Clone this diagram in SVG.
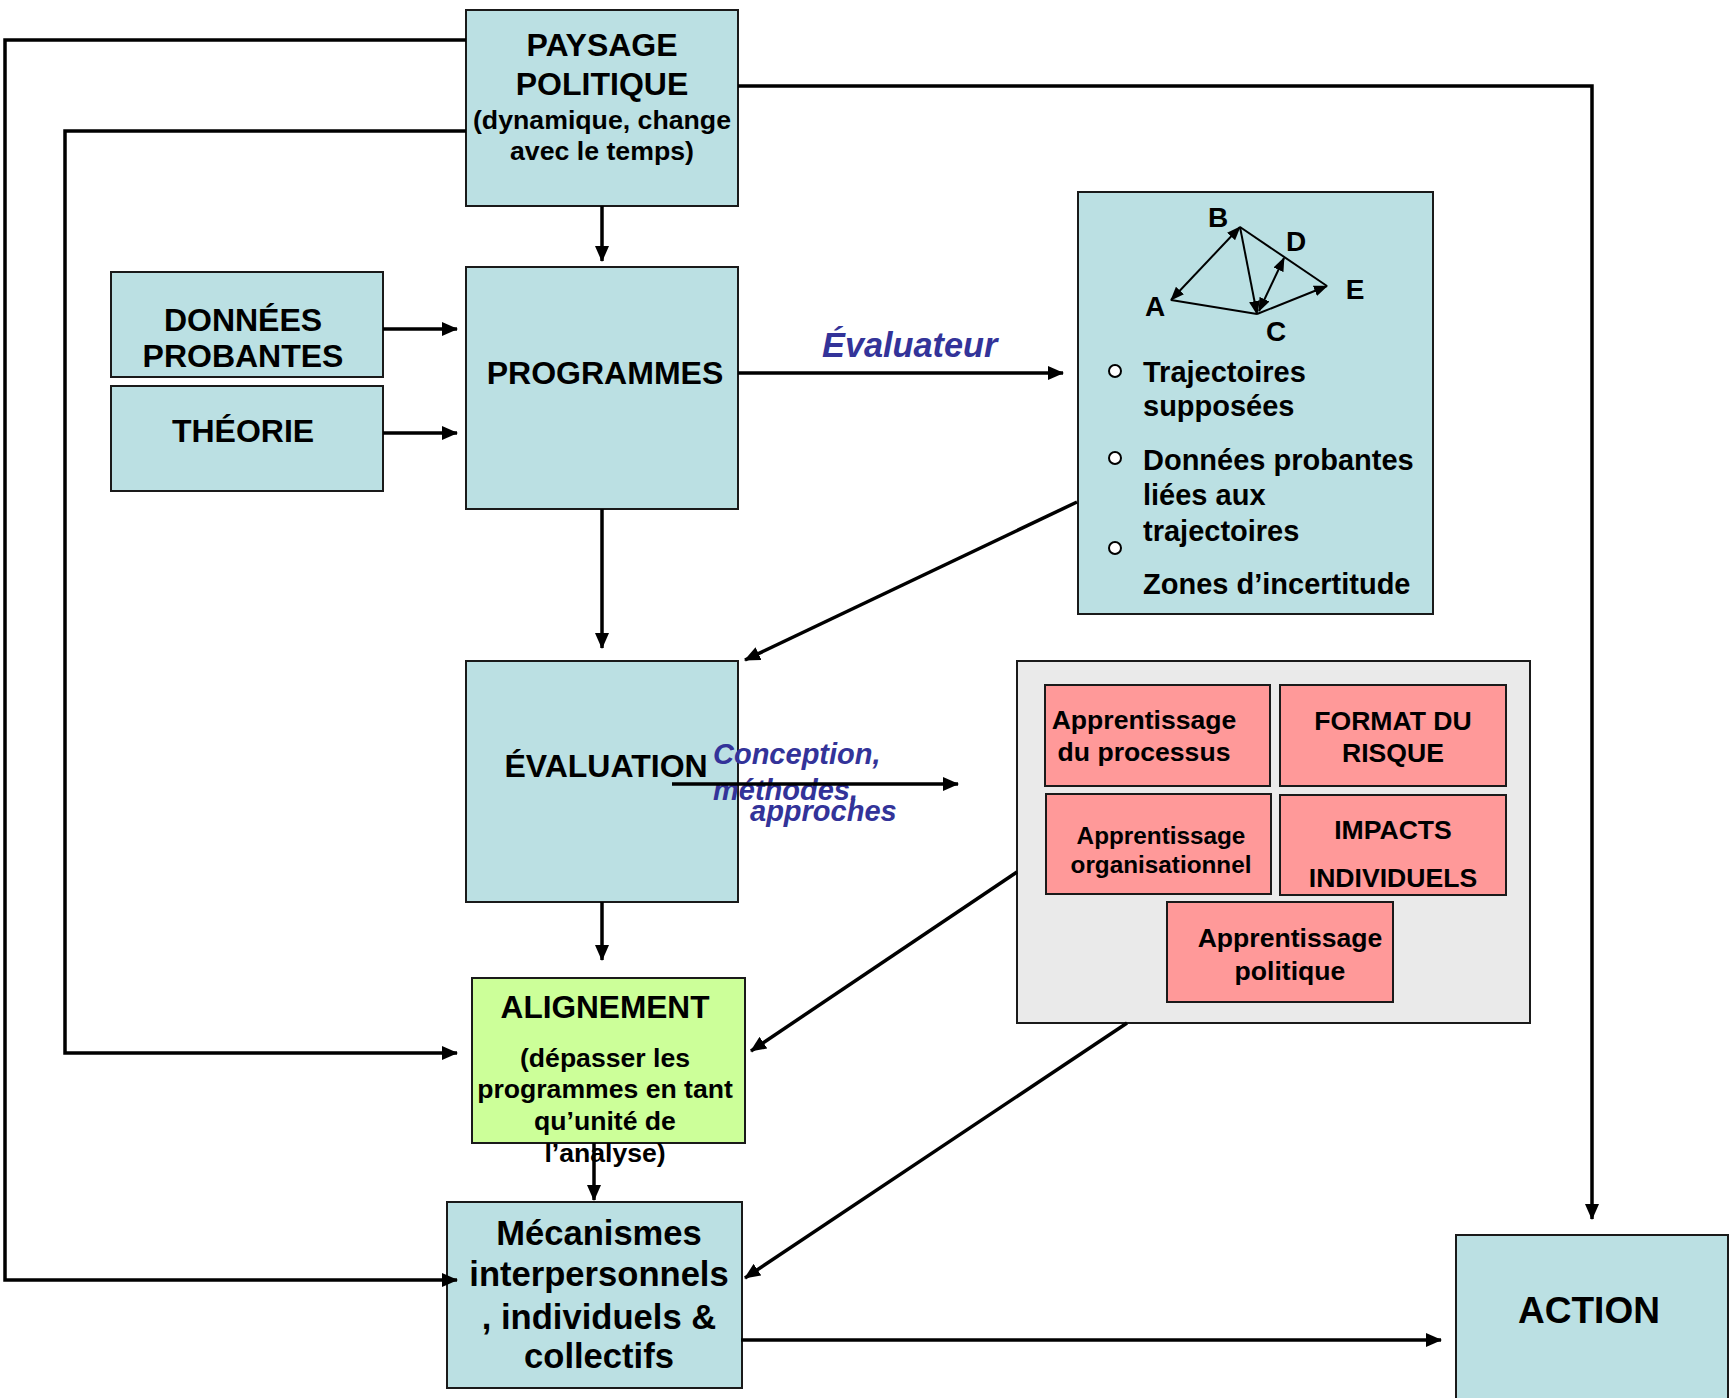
<svg xmlns="http://www.w3.org/2000/svg" width="1735" height="1398" viewBox="0 0 1735 1398">
<style>
  text { font-family: "Liberation Sans", Arial, sans-serif; font-weight: bold; fill: #000; }
  .c { text-anchor: middle; }
  .blue { fill: #bbe0e3; stroke: #1a1a1a; stroke-width: 2; }
  .pink { fill: #ff9999; stroke: #1a1a1a; stroke-width: 2; }
  .gray { fill: #eaeaea; stroke: #1a1a1a; stroke-width: 2; }
  .green { fill: #ccff99; stroke: #1a1a1a; stroke-width: 2; }
  .conn { fill: none; stroke: #000; stroke-width: 3.5; }
  .thin { fill: none; stroke: #000; stroke-width: 2; }
  .lbl { fill: #333399; font-style: italic; }
  .bul { fill: #fff; stroke: #000; stroke-width: 2; }
</style>
<defs>
  <marker id="arr" markerUnits="userSpaceOnUse" viewBox="0 0 16 14" refX="15" refY="7" markerWidth="16" markerHeight="14" orient="auto">
    <path d="M0,0 L16,7 L0,14 z" fill="#000"/>
  </marker>
  <marker id="sarr" markerUnits="userSpaceOnUse" viewBox="0 0 14 11" refX="13" refY="5.5" markerWidth="14" markerHeight="11" orient="auto-start-reverse">
    <path d="M0,0 L14,5.5 L0,11 z" fill="#000"/>
  </marker>
</defs>
<rect width="1735" height="1398" fill="#fff"/>

<g id="paysage">
  <rect class="blue" x="466" y="10" width="272" height="196"/>
  <text class="c" x="602" y="56" font-size="32">PAYSAGE</text>
  <text class="c" x="602" y="95" font-size="32">POLITIQUE</text>
  <text class="c" x="602" y="129" font-size="26.7">(dynamique, change</text>
  <text class="c" x="602" y="160" font-size="26.7">avec le temps)</text>
</g>
<g id="donnees">
  <rect class="blue" x="111" y="272" width="272" height="105"/>
  <text class="c" x="243" y="331" font-size="32">DONNÉES</text>
  <text class="c" x="243" y="367" font-size="32">PROBANTES</text>
</g>
<g id="theorie">
  <rect class="blue" x="111" y="386" width="272" height="105"/>
  <text class="c" x="243" y="442" font-size="32">THÉORIE</text>
</g>
<g id="programmes">
  <rect class="blue" x="466" y="267" width="272" height="242"/>
  <text class="c" x="605" y="384" font-size="32">PROGRAMMES</text>
</g>
<g id="trajectoires">
  <rect class="blue" x="1078" y="192" width="355" height="422"/>
  <g id="graphe">
    <line class="thin" x1="1171" y1="300" x2="1240" y2="227" marker-start="url(#sarr)" marker-end="url(#sarr)"/>
    <line class="thin" x1="1240" y1="227" x2="1257" y2="314" marker-end="url(#sarr)"/>
    <line class="thin" x1="1171" y1="300" x2="1257" y2="314"/>
    <line class="thin" x1="1259" y1="311" x2="1284" y2="258" marker-start="url(#sarr)" marker-end="url(#sarr)"/>
    <line class="thin" x1="1257" y1="314" x2="1327" y2="286" marker-end="url(#sarr)"/>
    <line class="thin" x1="1240" y1="227" x2="1327" y2="286"/>
    <text class="c" x="1218" y="227" font-size="28">B</text>
    <text class="c" x="1296" y="251" font-size="28">D</text>
    <text class="c" x="1355" y="299" font-size="28">E</text>
    <text class="c" x="1155" y="316" font-size="28">A</text>
    <text class="c" x="1276" y="341" font-size="28">C</text>
  </g>
  <circle class="bul" cx="1115" cy="371" r="6"/>
  <circle class="bul" cx="1115" cy="458" r="6"/>
  <circle class="bul" cx="1115" cy="548" r="6"/>
  <text x="1143" y="382" font-size="29">Trajectoires</text>
  <text x="1143" y="416" font-size="29">supposées</text>
  <text x="1143" y="470" font-size="29">Données probantes</text>
  <text x="1143" y="505" font-size="29">liées aux</text>
  <text x="1143" y="541" font-size="29">trajectoires</text>
  <text x="1143" y="594" font-size="29">Zones d’incertitude</text>
</g>
<g id="evaluation">
  <rect class="blue" x="466" y="661" width="272" height="241"/>
  <text class="c" x="606" y="777" font-size="32">ÉVALUATION</text>
</g>
<g id="apprentissages">
  <rect class="gray" x="1017" y="661" width="513" height="362"/>
  <g id="app-processus">
    <rect class="pink" x="1045" y="685" width="225" height="101"/>
    <text class="c" x="1144" y="729" font-size="26.6">Apprentissage</text>
    <text class="c" x="1144" y="761" font-size="26.6">du processus</text>
  </g>
  <g id="format-risque">
    <rect class="pink" x="1280" y="685" width="226" height="101"/>
    <text class="c" x="1393" y="730" font-size="26.6">FORMAT DU</text>
    <text class="c" x="1393" y="762" font-size="26.6">RISQUE</text>
  </g>
  <g id="app-organisationnel">
    <rect class="pink" x="1046" y="794" width="225" height="100"/>
    <text class="c" x="1161" y="844" font-size="24.3">Apprentissage</text>
    <text class="c" x="1161" y="873" font-size="24.3">organisationnel</text>
  </g>
  <g id="impacts">
    <rect class="pink" x="1280" y="795" width="226" height="100"/>
    <text class="c" x="1393" y="839" font-size="26.6">IMPACTS</text>
    <text class="c" x="1393" y="887" font-size="26.6">INDIVIDUELS</text>
  </g>
  <g id="app-politique">
    <rect class="pink" x="1167" y="902" width="226" height="100"/>
    <text class="c" x="1290" y="947" font-size="26.6">Apprentissage</text>
    <text class="c" x="1290" y="980" font-size="26.6">politique</text>
  </g>
</g>
<g id="alignement">
  <rect class="green" x="472" y="978" width="273" height="165"/>
  <text class="c" x="605" y="1018" font-size="31.6">ALIGNEMENT</text>
  <text class="c" x="605" y="1067" font-size="26.6">(dépasser les</text>
  <text class="c" x="605" y="1098" font-size="26.6">programmes en tant</text>
  <text class="c" x="605" y="1130" font-size="26.6">qu’unité de</text>
  <text class="c" x="605" y="1162" font-size="26.6">l’analyse)</text>
</g>
<g id="mecanismes">
  <rect class="blue" x="447" y="1202" width="295" height="186"/>
  <text class="c" x="599" y="1245" font-size="34.6">Mécanismes</text>
  <text class="c" x="599" y="1286" font-size="34.6">interpersonnels</text>
  <text class="c" x="599" y="1329" font-size="34.6">, individuels &amp;</text>
  <text class="c" x="599" y="1368" font-size="34.6">collectifs</text>
</g>
<g id="action">
  <rect class="blue" x="1456" y="1235" width="272" height="170"/>
  <text class="c" x="1589" y="1323" font-size="37">ACTION</text>
</g>

<g id="labels">
  <text class="lbl" x="822" y="357" font-size="34.3">Évaluateur</text>
  <text class="lbl" x="713" y="764" font-size="29">Conception,</text>
  <text class="lbl" x="713" y="800" font-size="29">méthodes,</text>
  <text class="lbl" x="750" y="821" font-size="29">approches</text>
</g>

<g id="connectors">
  <path class="conn" d="M466,40 H5 V1280 H457" marker-end="url(#arr)"/>
  <path class="conn" d="M466,131 H65 V1053 H457" marker-end="url(#arr)"/>
  <path class="conn" d="M738,86 H1592 V1219" marker-end="url(#arr)"/>
  <path class="conn" d="M602,206 V261" marker-end="url(#arr)"/>
  <path class="conn" d="M383,329 H457" marker-end="url(#arr)"/>
  <path class="conn" d="M383,433 H457" marker-end="url(#arr)"/>
  <path class="conn" d="M738,373 H1063" marker-end="url(#arr)"/>
  <path class="conn" d="M602,509 V648" marker-end="url(#arr)"/>
  <path class="conn" d="M1077,502 L745,660" marker-end="url(#arr)"/>
  <path class="conn" d="M672,784 H958" marker-end="url(#arr)"/>
  <path class="conn" d="M602,902 V960" marker-end="url(#arr)"/>
  <path class="conn" d="M1017,872 L751,1051" marker-end="url(#arr)"/>
  <path class="conn" d="M594,1143 V1200" marker-end="url(#arr)"/>
  <path class="conn" d="M1127,1023 L745,1278" marker-end="url(#arr)"/>
  <path class="conn" d="M741,1340 H1441" marker-end="url(#arr)"/>
</g>
</svg>
